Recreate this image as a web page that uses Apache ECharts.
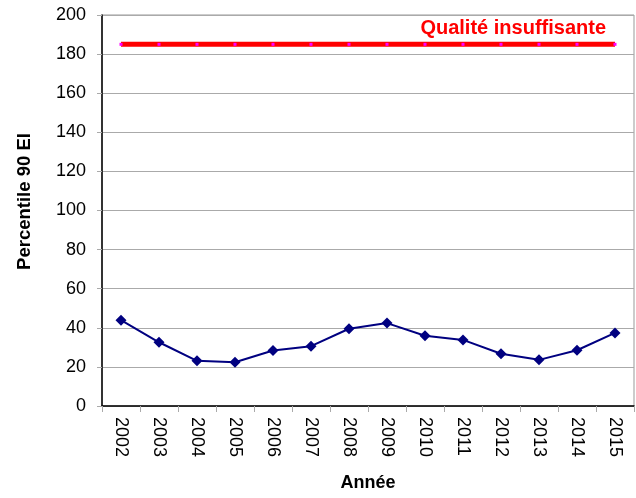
<!DOCTYPE html>
<html>
  <head>
    <meta charset="utf-8" />
    <title>Percentile 90 EI</title>
    <script src="https://cdnjs.cloudflare.com/ajax/libs/echarts/6.0.0/echarts.min.js"></script>
  </head>
  <body>
    <style>
      html, body { margin: 0; padding: 0; background: #fff; }
      #main { width: 636px; height: 498px; }
    </style>
    <div id="main"></div>
    <script type="text/javascript">
      var years = ['2002', '2003', '2004', '2005', '2006', '2007', '2008',
                   '2009', '2010', '2011', '2012', '2013', '2014', '2015'];
      var p90 = [43.9, 32.6, 23.1, 22.4, 28.4, 30.6, 39.5,
                 42.4, 35.9, 33.8, 26.7, 23.6, 28.5, 37.4];
      var seuil = [185, 185, 185, 185, 185, 185, 185,
                   185, 185, 185, 185, 185, 185, 185];
      var seuilLabel = 'Qualité insuffisante';

      var chart = echarts.init(document.getElementById('main'));
      var font = '"Liberation Sans", Arial, sans-serif';

      var option = {
        animation: false,
        textStyle: { fontFamily: font },
        grid: {
          left: 102, right: 2, top: 15, bottom: 92,
          show: true, borderColor: '#999', borderWidth: 1
        },
        xAxis: {
          type: 'category',
          data: years,
          boundaryGap: true,
          name: 'Année',
          nameLocation: 'middle',
          nameGap: 68,
          nameTextStyle: { fontFamily: font, fontSize: 18, fontWeight: 'bold', color: '#000' },
          axisLine: { lineStyle: { color: '#000', width: 1.5 } },
          axisTick: { show: true, length: 6, lineStyle: { color: '#aaa' } },
          axisLabel: { rotate: -90, margin: 11, fontFamily: font, fontSize: 18, color: '#000' }
        },
        yAxis: {
          type: 'value',
          min: 0, max: 200, interval: 20,
          name: 'Percentile 90 EI',
          nameLocation: 'middle',
          nameGap: 68,
          nameTextStyle: {
            fontFamily: font, fontSize: 18.5, fontWeight: 'bold', color: '#000',
            padding: [0, 0, 0, 18]
          },
          axisLine: { show: true, lineStyle: { color: '#000', width: 1.5 } },
          axisTick: { show: true, length: 5, lineStyle: { color: '#aaa' } },
          axisLabel: { margin: 16, fontFamily: font, fontSize: 18, color: '#000' },
          splitLine: { lineStyle: { color: '#aaa', width: 1 } }
        },
        series: [
          {
            type: 'line',
            data: seuil.map(function (v, i) {
              if (i === seuil.length - 1) {
                return {
                  value: v,
                  label: {
                    show: true,
                    position: 'top',
                    align: 'right',
                    distance: 4,
                    offset: [-9, 0],
                    formatter: seuilLabel,
                    fontFamily: font,
                    fontSize: 20,
                    fontWeight: 'bold',
                    color: '#ff0000'
                  }
                };
              }
              return v;
            }),
            symbol: 'rect',
            symbolSize: 3,
            itemStyle: { color: '#ff00ff' },
            lineStyle: { color: '#ff0000', width: 5 },
            z: 3
          },
          {
            type: 'line',
            data: p90,
            symbol: 'diamond',
            symbolSize: 11,
            itemStyle: { color: '#000080' },
            lineStyle: { color: '#000080', width: 2 },
            z: 4
          }
        ]
      };
      chart.setOption(option);
    </script>
  </body>
</html>
